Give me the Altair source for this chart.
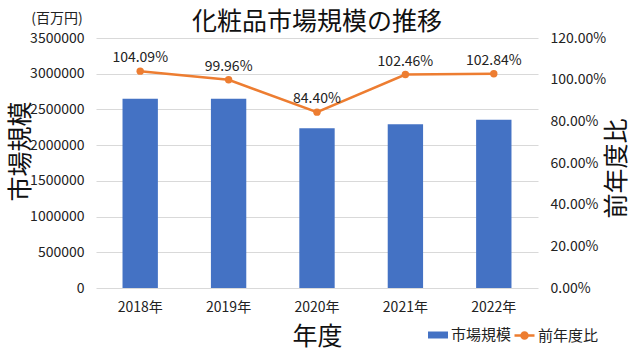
import altair as alt
import pandas as pd

years = ["2018年", "2019年", "2020年", "2021年", "2022年"]
market = [2650000, 2649000, 2236000, 2291000, 2356000]
ratio = [1.0409, 0.9996, 0.8440, 1.0246, 1.0284]
ratio_labels = ["104.09%", "99.96%", "84.40%", "102.46%", "102.84%"]
left_ticks = [0, 500000, 1000000, 1500000, 2000000, 2500000, 3000000, 3500000]
right_ticks = [0, 0.2, 0.4, 0.6, 0.8, 1.0, 1.2]

df = pd.DataFrame({"year": years, "market": market, "ratio": ratio, "label": ratio_labels})

FONT = "Noto Sans CJK JP"
BLUE = "#4472C4"
ORANGE = "#ED7D31"

x = alt.X(
    "year:N", sort=years, title="年度",
    scale=alt.Scale(paddingInner=0.6, paddingOuter=0.3),
    axis=alt.Axis(labelAngle=0, labelFontSize=14, labelPadding=12, titleFontSize=25,
                  titleY=48, titleBaseline="middle", domain=False, ticks=False, grid=False),
)

base = alt.Chart(df)

bars = base.transform_calculate(s="'市場規模'").mark_bar().encode(
    x=x,
    y=alt.Y("market:Q", scale=alt.Scale(domain=[0, 3500000], nice=False),
            axis=alt.Axis(values=left_ticks, format="d", title="市場規模", titleAngle=270,
                          titleX=-76, titleY=113, titleAlign="center", titleBaseline="middle",
                          titleFontSize=25, labelFontSize=14, labelPadding=12,
                          domain=False, ticks=False, grid=True, gridColor="#D9D9D9")),
    color=alt.Color("s:N", scale=alt.Scale(range=[BLUE]),
                    legend=alt.Legend(title=None, orient="none", legendX=331, legendY=286,
                                      symbolType="M-1,-0.35H1V0.35H-1Z", symbolSize=400,
                                      labelFontSize=15, labelFont=FONT, labelOffset=2)),
)

yr = alt.Y("ratio:Q", scale=alt.Scale(domain=[0, 1.2], nice=False),
           axis=alt.Axis(orient="right", values=right_ticks, format=".2%", title="前年度比",
                         titleAngle=270, titleX=78, titleY=130, titleAlign="center",
                         titleBaseline="middle", titleFontSize=25, labelFontSize=14,
                         labelPadding=12, domain=False, ticks=False, grid=False))

line = base.transform_calculate(s="'前年度比'").mark_line(
    strokeWidth=2.5, point=alt.OverlayMarkDef(size=55, filled=True)
).encode(
    x=x, y=yr,
    color=alt.Color("s:N", scale=alt.Scale(range=[ORANGE]),
                    legend=alt.Legend(title=None, orient="none", legendX=417, legendY=286,
                                      symbolType="M-1,0H1M0.3,0A0.3,0.3 0 1,1 -0.3,0A0.3,0.3 0 1,1 0.3,0Z",
                                      symbolSize=400, symbolStrokeWidth=2.5,
                                      symbolFillColor=ORANGE, symbolStrokeColor=ORANGE,
                                      labelFontSize=15, labelFont=FONT, labelOffset=2)),
)

labels = base.mark_text(dy=-13, fontSize=14, font=FONT, color="#222").encode(
    x=x, y=yr, text="label:N",
)

unit = alt.Chart(pd.DataFrame({"t": ["(百万円)"]})).mark_text(
    fontSize=14, font=FONT, color="#222"
).encode(x=alt.value(-39), y=alt.value(-19), text="t:N")

chart = alt.layer(bars, alt.layer(line, labels), unit).resolve_scale(
    y="independent", color="independent"
).resolve_legend(color="independent").properties(
    width=442, height=250,
    padding={"left": 96, "top": 38, "right": 102, "bottom": 67},
    autosize=alt.AutoSizeParams(type="none"),
    title=alt.Title("化粧品市場規模の推移", fontSize=25, font=FONT, fontWeight="normal",
                    anchor="middle", offset=5, dy=28, color="#111"),
).configure_axis(
    labelFont=FONT, titleFont=FONT, labelColor="#222", titleColor="#111", titleFontWeight="normal"
).configure_view(stroke=None).configure_legend(labelColor="#222")

chart.save("out.html", embed_options={"renderer": "svg", "actions": False})
